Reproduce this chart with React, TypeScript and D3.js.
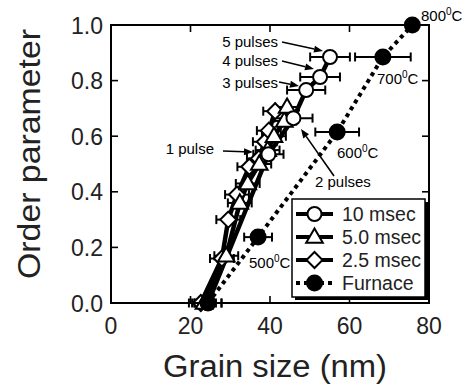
import React from "react";
import * as d3 from "d3";

const xTicks = [0, 20, 40, 60, 80];
const yTicks = [0, 0.2, 0.4, 0.6, 0.8, 1.0];
const yTickLabels = ["0.0", "0.2", "0.4", "0.6", "0.8", "1.0"];

// 10 msec (open circles)
const c10x = [24.4, 39.6, 45.9, 49.1, 52.6, 55.1];
const c10y = [0, 0.535, 0.665, 0.766, 0.813, 0.885];
const c10e = [3.4, 3.8, 4.8, 4.8, 5.0, 5.0];

// 5.0 msec (open triangles)
const t5x = [23.4, 29.0, 32.4, 34.4, 37.3, 39.4, 41.0, 43.6, 44.3];
const t5y = [0, 0.17, 0.36, 0.43, 0.5, 0.55, 0.6, 0.655, 0.705];
const t5e = [3, 3, 3, 3, 3, 3, 3, 3, 3];

// 2.5 msec (open diamonds)
const d25x = [22.6, 27.9, 29.5, 31.7, 34.8, 37.2, 38.7, 39.7, 41.3];
const d25y = [0, 0.16, 0.3, 0.39, 0.49, 0.52, 0.58, 0.62, 0.69];
const d25e = [3, 3, 3, 3, 3, 3, 3, 3, 3];

// Furnace (filled circles)
const fx = [24.4, 37.0, 56.9, 68.4, 75.8];
const fy = [0, 0.237, 0.615, 0.885, 1.0];
const fe = [3.4, 3.5, 5.5, 7.0, 0];
const fLabels = ["", "500", "600", "700", "800"];

const legendNames = ["10 msec", "5.0 msec", "2.5 msec", "Furnace"];

const W = 467;
const H = 387;
const x = d3.scaleLinear().domain([0, 80]).range([111, 429]);
const y = d3.scaleLinear().domain([0, 1]).range([303, 25]);

const FONT = "Liberation Sans, Arial, Helvetica, sans-serif";

const zip = (xs: number[], ys: number[]) => xs.map((v, i) => [v, ys[i]] as [number, number]);
const line = d3
  .line<[number, number]>()
  .x((d) => x(d[0]))
  .y((d) => y(d[1]));

type Shape = "circle" | "triangle" | "diamond" | "filled";

function Marker({ cx, cy, shape }: { cx: number; cy: number; shape: Shape }) {
  if (shape === "circle")
    return <circle cx={cx} cy={cy} r={7} fill="white" stroke="black" strokeWidth={2} />;
  if (shape === "filled") return <circle cx={cx} cy={cy} r={8.5} fill="black" />;
  if (shape === "triangle") {
    const p = d3.symbol().type(d3.symbolTriangle).size(120)() as string;
    return (
      <path d={p} transform={`translate(${cx},${cy + 1})`} fill="white" stroke="black" strokeWidth={2} />
    );
  }
  const s = 8;
  return (
    <path
      d={`M0,${-s}L${s},0L0,${s}L${-s},0Z`}
      transform={`translate(${cx},${cy})`}
      fill="white"
      stroke="black"
      strokeWidth={2}
    />
  );
}

function ErrBars({ xs, ys, es }: { xs: number[]; ys: number[]; es: number[] }) {
  return (
    <g stroke="black" strokeWidth={2}>
      {xs.map((v, i) =>
        es[i] > 0 ? (
          <g key={i}>
            <line x1={x(v - es[i])} x2={x(v + es[i])} y1={y(ys[i])} y2={y(ys[i])} />
            <line x1={x(v - es[i])} x2={x(v - es[i])} y1={y(ys[i]) - 4.5} y2={y(ys[i]) + 4.5} />
            <line x1={x(v + es[i])} x2={x(v + es[i])} y1={y(ys[i]) - 4.5} y2={y(ys[i]) + 4.5} />
          </g>
        ) : null
      )}
    </g>
  );
}

function Arrow({ x1, y1, x2, y2 }: { x1: number; y1: number; x2: number; y2: number }) {
  const ang = Math.atan2(y2 - y1, x2 - x1);
  const L = 9;
  const w = 3.5;
  const bx = x2 - L * Math.cos(ang);
  const by = y2 - L * Math.sin(ang);
  const px = -Math.sin(ang) * w;
  const py = Math.cos(ang) * w;
  return (
    <g>
      <line x1={x1} y1={y1} x2={bx} y2={by} stroke="black" strokeWidth={1.6} />
      <path d={`M${x2},${y2}L${bx + px},${by + py}L${bx - px},${by - py}Z`} fill="black" />
    </g>
  );
}

function TempLabel({ tx, ty, t }: { tx: number; ty: number; t: string }) {
  return (
    <text x={tx} y={ty} fontSize={15} fontFamily={FONT}>
      {t}
      <tspan fontSize={10} dy={-6}>
        0
      </tspan>
      <tspan dy={6}>C</tspan>
    </text>
  );
}

export default function App() {
  const series = [
    { xs: c10x, ys: c10y, es: c10e, shape: "circle" as Shape },
    { xs: t5x, ys: t5y, es: t5e, shape: "triangle" as Shape },
    { xs: d25x, ys: d25y, es: d25e, shape: "diamond" as Shape },
  ];
  const tempPos = [
    null,
    [249, 268],
    [337, 158],
    [377, 84],
    [421, 21],
  ];
  const legendY = [214, 237, 260, 283];
  const legendShapes: Shape[] = ["circle", "triangle", "diamond", "filled"];

  return (
    <div style={{ position: "absolute", left: 0, top: 0 }}>
      <svg width={W} height={H} style={{ display: "block", background: "white" }}>
        {/* series lines */}
        {series.map((s, i) => (
          <path key={i} d={line(zip(s.xs, s.ys)) as string} fill="none" stroke="black" strokeWidth={4.5} strokeLinejoin="round" />
        ))}
        <path
          d={line(zip(fx, fy)) as string}
          fill="none"
          stroke="black"
          strokeWidth={4}
          strokeDasharray="4 4"
        />
        {/* error bars */}
        {series.map((s, i) => (
          <ErrBars key={i} xs={s.xs} ys={s.ys} es={s.es} />
        ))}
        <ErrBars xs={fx} ys={fy} es={fe} />
        {/* markers */}
        {[...series].reverse().map((s, i) => (
          <g key={i}>
            {s.xs.map((v, j) => (
              <Marker key={j} cx={x(v)} cy={y(s.ys[j])} shape={s.shape} />
            ))}
          </g>
        ))}
        {fx.map((v, j) => (
          <Marker key={j} cx={x(v)} cy={y(fy[j])} shape="filled" />
        ))}

        {/* frame */}
        <rect x={x(0)} y={y(1)} width={x(80) - x(0)} height={y(0) - y(1)} fill="none" stroke="black" strokeWidth={2} />
        {xTicks.slice(1, -1).map((t) => (
          <g key={t} stroke="black" strokeWidth={1.6}>
            <line x1={x(t)} x2={x(t)} y1={y(0)} y2={y(0) - 7} />
            <line x1={x(t)} x2={x(t)} y1={y(1)} y2={y(1) + 7} />
          </g>
        ))}
        {yTicks.slice(1, -1).map((t) => (
          <g key={t} stroke="black" strokeWidth={1.6}>
            <line x1={x(0)} x2={x(0) + 7} y1={y(t)} y2={y(t)} />
            <line x1={x(80)} x2={x(80) - 7} y1={y(t)} y2={y(t)} />
          </g>
        ))}
        {xTicks.map((t) => (
          <text key={t} x={x(t)} y={334} fontSize={23} fontFamily={FONT} textAnchor="middle" fill="#222">
            {t}
          </text>
        ))}
        {yTicks.map((t, i) => (
          <text key={t} x={103} y={y(t) + 8.5} fontSize={23} fontFamily={FONT} textAnchor="end" fill="#222">
            {yTickLabels[i]}
          </text>
        ))}
        <text
          x={275}
          y={377}
          fontSize={31}
          fontFamily={FONT}
          textAnchor="middle"
          fill="#222"
          textLength={224}
          lengthAdjust="spacingAndGlyphs"
        >
          Grain size (nm)
        </text>
        <text
          transform="translate(40,154) rotate(-90)"
          fontSize={31}
          fontFamily={FONT}
          textAnchor="middle"
          fill="#222"
          textLength={250}
          lengthAdjust="spacingAndGlyphs"
        >
          Order parameter
        </text>

        {/* temperature labels */}
        {fLabels.map((t, i) =>
          t && tempPos[i] ? <TempLabel key={i} tx={tempPos[i]![0]} ty={tempPos[i]![1]} t={t} /> : null
        )}

        {/* pulse annotations */}
        <g fontSize={15} fontFamily={FONT} textAnchor="end">
          <text x={278} y={47}>5 pulses</text>
          <text x={278} y={66}>4 pulses</text>
          <text x={278} y={88}>3 pulses</text>
          <text x={214} y={154}>1 pulse</text>
          <text x={315} y={187} textAnchor="start">2 pulses</text>
        </g>
        <Arrow x1={282} y1={42} x2={323} y2={51} />
        <Arrow x1={282} y1={61} x2={314} y2={69} />
        <Arrow x1={279} y1={82} x2={299} y2={86} />
        <Arrow x1={223} y1={151} x2={253} y2={152} />
        <Arrow x1={334} y1={176} x2={301} y2={129} />

        {/* legend */}
        <rect x={295} y={202} width={133} height={98} fill="black" />
        <rect x={292} y={199} width={133} height={98} fill="white" stroke="black" strokeWidth={1.5} />
        {legendNames.map((n, i) => (
          <g key={n}>
            <line
              x1={296}
              x2={333}
              y1={legendY[i]}
              y2={legendY[i]}
              stroke="black"
              strokeWidth={4}
              strokeDasharray={i === 3 ? "4 4" : undefined}
            />
            <Marker cx={314.5} cy={legendY[i]} shape={legendShapes[i]} />
            <text x={342} y={legendY[i] + 7} fontSize={19.5} fontFamily={FONT} fill="#222">
              {n}
            </text>
          </g>
        ))}
      </svg>
    </div>
  );
}
